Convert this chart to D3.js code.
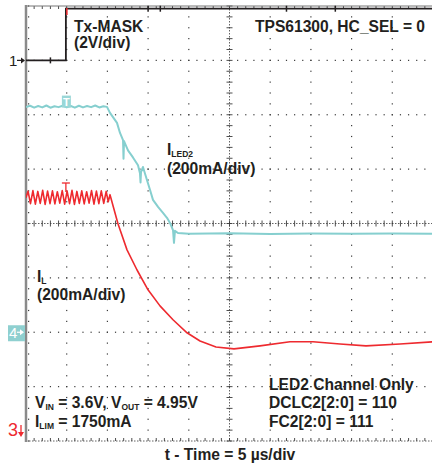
<!DOCTYPE html>
<html><head><meta charset="utf-8">
<script src="https://cdn.jsdelivr.net/npm/d3@7"></script>
<style>html,body{margin:0;padding:0;background:#fff;} svg{display:block;font-family:"Liberation Sans",Arial,Helvetica,sans-serif;}</style>
</head><body><svg id="c" width="432" height="464"></svg>
<script>
// ---- data ----
const timeDomainUs = [-25, 25];          // 10 div x 5 us/div
const divDomain = [-4, 4];               // 8 vertical divisions
// channel settings: [zero level in div, units per div]
const ch1Setting = [3, 2];      // Tx-MASK, 2 V/div
const ch4Setting = [-2, 200];   // ILED2, 200 mA/div
const ch3Setting = [-8, 200];   // IL, 200 mA/div (ground below screen)

// Tx-MASK (V)
const txMaskT = [-25, -20.1, -20.1, 25];
const txMaskV = [0, 0, 1.9, 1.9];

// ILED2 (mA)
const iled2 = [
 [-25.0,828],[-24.5,833],[-24.0,826],[-23.5,832],[-23.0,827],[-22.5,834],[-22.0,826],[-21.5,831],
 [-21.0,828],[-20.5,833],[-20.0,827],[-19.5,832],[-19.0,826],[-18.5,833],[-18.0,827],[-17.5,832],
 [-17.0,828],[-16.5,834],[-16.0,827],[-15.5,831],[-15.05,829],
 [-14.68,807],[-13.82,770],[-13.45,733],[-13.08,707],[-13.02,638],[-12.96,703],[-12.47,669],
 [-11.86,643],[-11.24,614],[-11.0,585],[-10.93,551],[-10.87,589],[-10.63,608],[-10.14,560],
 [-9.77,524],[-9.40,487],[-8.78,461],[-8.17,439],[-7.68,421],[-7.31,402],[-6.94,376],
 [-6.82,329],[-6.70,373],[-6.33,365],
 [-5,362],[0,364],[5,361],[10,363],[15,362],[20,363],[25,362]
];

// IL (mA): switching ripple then decay
const ilRipple = [
 [-25.0,1695],[-24.75,1719],[-24.45,1673],[-24.15,1721],[-23.85,1671],[-23.55,1718],[-23.25,1674],
 [-22.95,1722],[-22.65,1670],[-22.35,1719],[-22.05,1673],[-21.75,1720],[-21.45,1672],[-21.15,1717],
 [-20.85,1675],[-20.55,1721],[-20.25,1671],[-19.95,1719],[-19.65,1673],[-19.35,1722],[-19.05,1670],
 [-18.75,1718],[-18.45,1674],[-18.15,1720],[-17.85,1672],[-17.55,1717],[-17.25,1675],[-16.95,1721],
 [-16.65,1671],[-16.35,1719],[-16.05,1673],[-15.75,1720],[-15.45,1674],[-15.15,1718],[-14.9,1680],
 [-14.68,1706]
];
const ilDecay = [
 [-13.70,1599],[-12.59,1503],[-11.36,1429],[-10.01,1356],[-8.54,1297],[-6.94,1246],[-5.22,1198],
 [-3.62,1168],[-1.66,1146],[0.55,1139],[3.75,1150],[7.43,1165],[10.26,1165],[13.58,1157],
 [16.77,1150],[20.95,1157],[25,1165]
];

// ---- drawing ----
const svg = d3.select("#c");
const X0 = 26, X1 = 433, Y0 = 6, Y1 = 441;
const x = d3.scaleLinear().domain(timeDomainUs).range([X0, X1]);
const yd = d3.scaleLinear().domain(divDomain).range([Y1, Y0]);
const chScale = s => d3.scaleLinear().domain([0, s[1]]).range([yd(s[0]), yd(s[0] + 1)]);
const y1 = chScale(ch1Setting), y4 = chScale(ch4Setting), y3 = chScale(ch3Setting);

const cyan = "#86cfcf", red = "#ee2a2f", ink = "#231f20", gridc = "#3a3a3a";

svg.append("defs").append("clipPath").attr("id","clip")
  .append("rect").attr("x",X0).attr("y",Y0-2).attr("width",X1-X0).attr("height",Y1-Y0+2);

const g = svg.append("g");
const minorT = d3.range(-25, 25.001, 1);
const minorD = d3.range(-4, 4.001, 0.2);

// dotted grid lines
[-20,-15,-10,-5,5,10,15,20].forEach(t => {
  g.selectAll(null).data(minorD.filter(d=>d>-4&&d<4)).enter().append("rect")
    .attr("x", x(t)-0.6).attr("y", d=>yd(d)-0.6).attr("width",1.2).attr("height",1.2).attr("fill",gridc);
});
[-3,-2,-1,1,2,3].forEach(dv => {
  g.selectAll(null).data(minorT.filter(t=>t>-25&&t<25)).enter().append("rect")
    .attr("x", t=>x(t)-0.6).attr("y", yd(dv)-0.6).attr("width",1.2).attr("height",1.2).attr("fill",gridc);
});
// center axes
g.append("line").attr("x1",X0).attr("x2",X1).attr("y1",yd(0)).attr("y2",yd(0))
  .attr("stroke",gridc).attr("stroke-width",0.8).attr("stroke-dasharray","1.5,1.5");
g.append("line").attr("y1",Y0).attr("y2",Y1).attr("x1",x(0)).attr("x2",x(0))
  .attr("stroke",gridc).attr("stroke-width",0.8).attr("stroke-dasharray","1.5,1.5");
g.selectAll(null).data(minorT).enter().append("line")
  .attr("x1",t=>x(t)).attr("x2",t=>x(t)).attr("y1",yd(0)-3).attr("y2",yd(0)+3)
  .attr("stroke",gridc).attr("stroke-width",0.9);
g.selectAll(null).data(minorD).enter().append("line")
  .attr("y1",d=>yd(d)).attr("y2",d=>yd(d)).attr("x1",x(0)-3).attr("x2",x(0)+3)
  .attr("stroke",gridc).attr("stroke-width",0.9);
// edge ticks
g.selectAll(null).data(minorT).enter().append("line")
  .attr("x1",t=>x(t)).attr("x2",t=>x(t)).attr("y1",Y1).attr("y2",Y1-3)
  .attr("stroke",gridc).attr("stroke-width",0.9);
g.selectAll(null).data(minorT).enter().append("line")
  .attr("x1",t=>x(t)).attr("x2",t=>x(t)).attr("y1",Y0).attr("y2",Y0+3)
  .attr("stroke",gridc).attr("stroke-width",0.9);
g.selectAll(null).data(minorD).enter().append("rect")
  .attr("x",X0+2).attr("y",d=>yd(d)-0.6).attr("width",1.2).attr("height",1.2).attr("fill",gridc);
// frame
g.append("line").attr("x1",X0).attr("x2",X1).attr("y1",Y1).attr("y2",Y1)
  .attr("stroke",gridc).attr("stroke-width",0.8).attr("stroke-dasharray","1.5,1.5");
g.append("line").attr("x1",X0).attr("x2",X1).attr("y1",Y0).attr("y2",Y0)
  .attr("stroke","#777").attr("stroke-width",1);
g.append("line").attr("x1",X0).attr("x2",X0).attr("y1",Y0-1).attr("y2",Y1+1)
  .attr("stroke","#8a8a8a").attr("stroke-width",2.5);

// traces
const tr = svg.append("g").attr("clip-path","url(#clip)");
const lineOf = ys => d3.line().x(d=>x(d[0])).y(d=>ys(d[1]));
tr.append("path").datum(ilRipple.concat(ilDecay)).attr("d", lineOf(y3))
  .attr("fill","none").attr("stroke",red).attr("stroke-width",1.6).attr("stroke-linejoin","round");
tr.append("path").datum(iled2).attr("d", lineOf(y4))
  .attr("fill","none").attr("stroke",cyan).attr("stroke-width",2).attr("stroke-linejoin","round");
tr.append("path").datum(txMaskT.map((t,i)=>[t, txMaskV[i]])).attr("d", lineOf(y1))
  .attr("fill","none").attr("stroke",ink).attr("stroke-width",1.8);
// small markers on Tx trace
[[-22,0],[-10,1.9],[-8.5,1.9],[7,1.9],[13,1.9]].forEach(p=>{
  tr.append("line").attr("x1",x(p[0])).attr("x2",x(p[0])).attr("y1",y1(p[1])-3).attr("y2",y1(p[1])+3)
    .attr("stroke",ink).attr("stroke-width",1.5);
});
// trigger marker at top
svg.append("line").attr("x1",x(-20.1)+1).attr("x2",x(-20.1)+1).attr("y1",Y0+2).attr("y2",Y0+9)
  .attr("stroke",red).attr("stroke-width",1.5);

// cyan "T" marker
const ct = svg.append("g");
ct.append("rect").attr("x",x(-20.1)-4).attr("y",y4(ch4Setting[1]*4.15)-11).attr("width",9).attr("height",12).attr("fill","#9ad7d7");
ct.append("text").attr("x",x(-20.1)+0.5).attr("y",y4(ch4Setting[1]*4.15)-1).attr("text-anchor","middle")
  .attr("font-size",11).attr("fill","#fff").attr("font-weight","bold").text("T");
// red "T" marker
const rt = svg.append("g").attr("stroke",red).attr("stroke-width",1.3);
rt.append("line").attr("x1",x(-20.1)-4).attr("x2",x(-20.1)+4).attr("y1",183).attr("y2",183);
rt.append("line").attr("x1",x(-20.1)).attr("x2",x(-20.1)).attr("y1",183).attr("y2",192);

// channel markers on left
const m1y = yd(ch1Setting[0]);
svg.append("text").attr("x",9).attr("y",m1y+5.5).attr("font-size",15).attr("fill",ink).text("1");
svg.append("line").attr("x1",17).attr("x2",24).attr("y1",m1y).attr("y2",m1y).attr("stroke",ink).attr("stroke-width",1.2);
svg.append("path").attr("d",`M25,${m1y} l-4,-3 v6 z`).attr("fill",ink);

const m4y = yd(ch4Setting[0]);
svg.append("rect").attr("x",8).attr("y",m4y-7).attr("width",17).attr("height",16).attr("fill","#8fd0d0");
svg.append("text").attr("x",9).attr("y",m4y+6).attr("font-size",15).attr("fill","#fff").text("4");
svg.append("line").attr("x1",17).attr("x2",23).attr("y1",m4y).attr("y2",m4y).attr("stroke","#fff").attr("stroke-width",1.2);
svg.append("path").attr("d",`M24,${m4y} l-4,-3 v6 z`).attr("fill","#fff");

svg.append("text").attr("x",8).attr("y",436).attr("font-size",18).attr("fill",red).text("3");
svg.append("line").attr("x1",21).attr("x2",21).attr("y1",425).attr("y2",433).attr("stroke",red).attr("stroke-width",1.3);
svg.append("path").attr("d","M21,437 l-3,-5 h6 z").attr("fill",red);

// labels
function label(xp, yp, parts, anchor){
  const t = svg.append("text").attr("x",xp).attr("y",yp).attr("font-size",15.6)
    .attr("font-weight","bold").attr("fill",ink).attr("text-anchor",anchor||"start");
  let lowered = false;
  parts.forEach(p=>{
    if (typeof p === "string") {
      const s = t.append("tspan").text(p);
      if (lowered) { s.attr("dy",-1.5); lowered = false; }
    } else {
      t.append("tspan").attr("font-size",8.5).attr("dy",1.5).text(p.sub);
      lowered = true;
    }
  });
  return t;
}
label(74, 32, ["Tx-MASK"]);
label(74, 48, ["(2V/div)"]);
label(255, 32, ["TPS61300, HC_SEL = 0"]);
label(167, 155, ["I",{sub:"LED2"}]);
label(167, 174, ["(200mA/div)"]);
label(37, 282, ["I",{sub:"L"}]);
label(37, 300, ["(200mA/div)"]);
label(35, 408, ["V",{sub:"IN"}," = 3.6V, V",{sub:"OUT"}," = 4.95V"]);
label(35, 427, ["I",{sub:"LIM"}," = 1750mA"]);
label(269, 390, ["LED2 Channel Only"]);
label(269, 408, ["DCLC2[2:0] = 110"]);
label(269, 427, ["FC2[2:0] = 111"]);
label(230, 460, ["t - Time = 5 µs/div"], "middle");
</script></body></html>
